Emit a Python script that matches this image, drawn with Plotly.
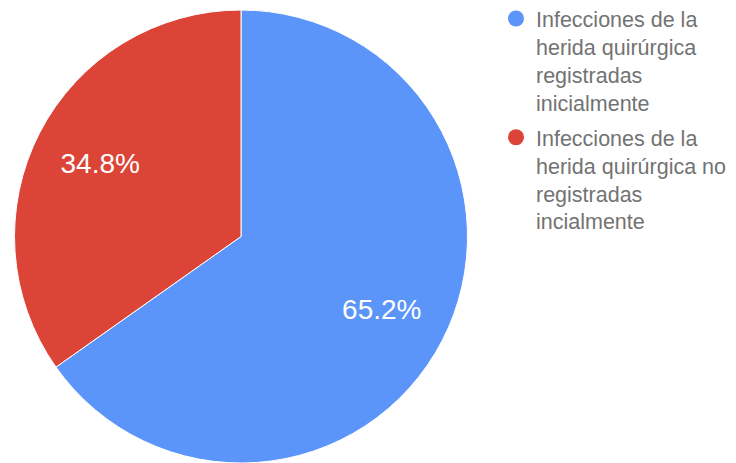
import plotly.graph_objects as go

labels = [
    "Infecciones de la<br>herida quirúrgica<br>registradas<br>inicialmente",
    "Infecciones de la<br>herida quirúrgica no<br>registradas<br>incialmente",
]
values = [15, 8]
colors = ["#5b95f9", "#db4437"]

# canvas larger than the 736x463 window; the page clips the unused right/bottom
W, H = 780, 600
OFF = 8  # default page body margin
cx, cy, r = 241 - OFF, 236.5 - OFF, 226.5
dom = dict(x=[(cx - r) / W, (cx + r) / W], y=[(H - cy - r) / H, (H - cy + r) / H])
FONT = "Liberation Sans, Arial, sans-serif"

fig = go.Figure()
fig.add_trace(go.Pie(
    labels=labels,
    values=values,
    sort=False,
    direction="clockwise",
    rotation=0,
    marker=dict(colors=colors, line=dict(color="white", width=1)),
    textinfo="none",
    showlegend=False,
    hoverinfo="label+percent",
    domain=dom,
))
# transparent ring overlay, only to place the percent labels at ~0.7 r
fig.add_trace(go.Pie(
    labels=labels,
    values=values,
    sort=False,
    direction="clockwise",
    rotation=0,
    hole=0.4,
    marker=dict(colors=["rgba(0,0,0,0)"] * 2, line=dict(width=0)),
    texttemplate="%{percent:.1%}",
    textposition="inside",
    insidetextorientation="horizontal",
    textfont=dict(color="white", size=28, family=FONT),
    showlegend=False,
    hoverinfo="skip",
    domain=dom,
))

for i, (lab, col) in enumerate(zip(labels, colors)):
    fig.add_trace(go.Scatter(
        x=[None], y=[None], mode="markers", name=lab,
        legendgroup=f"g{i}",
        marker=dict(color=col, size=16, symbol="circle"),
        showlegend=True,
    ))

fig.update_layout(
    width=W, height=H,
    margin=dict(l=0, r=0, t=0, b=0, autoexpand=False),
    paper_bgcolor="white",
    plot_bgcolor="white",
    xaxis=dict(visible=False),
    yaxis=dict(visible=False),
    legend=dict(
        x=(496 - OFF) / W, y=1 + 10 / H, xanchor="left", yanchor="top",
        valign="top",
        tracegroupgap=4,
        font=dict(size=21.5, color="#737373", family=FONT),
        bgcolor="rgba(0,0,0,0)",
    ),
)

fig.write_html("out.html")
